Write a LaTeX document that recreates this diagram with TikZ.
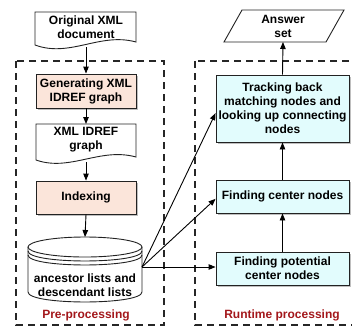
\documentclass[tikz,border=0pt]{standalone}
\usepackage{fontspec}
\setmainfont{Liberation Sans}
\usetikzlibrary{arrows.meta,shadows}
\definecolor{pinkfill}{HTML}{FBE5DA}
\definecolor{cyanfill}{HTML}{E2FCFD}
\definecolor{labred}{HTML}{A3171B}
\definecolor{edge}{HTML}{222222}
\begin{document}
\begin{tikzpicture}[x=1pt,y=-1pt,
  every node/.style={font=\fontsize{12}{14}\selectfont\bfseries, align=center, inner sep=0pt},
  procbox/.style={draw=edge, line width=0.9pt, minimum width=100pt, minimum height=34pt,
     drop shadow={shadow xshift=1.5pt, shadow yshift=-1.5pt, fill=black!25, opacity=1}},
  pinkbox/.style={procbox, fill=pinkfill},
  cyanbox/.style={procbox, fill=cyanfill, minimum width=133pt},
  shapeline/.style={draw=edge, line width=0.9pt, fill=white},
  conn/.style={draw=black, line width=0.9pt, -{Triangle[length=7pt,width=5.5pt]}},
  region/.style={draw=black!85, line width=1.1pt, dash pattern=on 7pt off 5pt},
  regionlabel/.style={text=labred}
]
\useasboundingbox (0,0) rectangle (352,327);

% regions
\draw[region] (16,61) rectangle (164,325);
\draw[region] (195,61) rectangle (362,325);
\node[regionlabel] (prel) at (86,315) {Pre-processing};
\node[regionlabel] (runl) at (282,315) {Runtime processing};

% Original XML document
\draw[shapeline] (35,12) -- (136,12) -- (136,42) .. controls (100,32) and (70,58) .. (35,45) -- cycle;
\node (doc1) at (86,27) {Original XML\\document};
\coordinate (doc1b) at (86,47);

% Generating
\node[pinkbox, minimum height=34pt] (gen) at (86,91) {Generating XML\\IDREF graph};

% XML IDREF graph document
\draw[shapeline] (36,124) -- (136,124) -- (136,157) .. controls (100,147) and (70,172) .. (36,160) -- cycle;
\node (doc2) at (86,140) {XML IDREF\\graph};
\coordinate (doc2t) at (86,124);
\coordinate (doc2b) at (86,162);

% Indexing
\node[pinkbox, minimum height=33pt] (idx) at (86,197.5) {Indexing};

% Cylinder
\draw[shapeline] (28,247) -- (28,292) .. controls (28,305.3) and (142,305.3) .. (142,292) -- (142,247);
\draw[shapeline] (85,247) ellipse [x radius=57, y radius=10];
\draw[draw=edge, line width=0.9pt] (28,251) .. controls (28,264.3) and (142,264.3) .. (142,251);
\draw[draw=edge, line width=0.9pt] (28,255) .. controls (28,268.3) and (142,268.3) .. (142,255);
\node (cyl) at (85,285) {ancestor lists and\\descendant lists};
\coordinate (cylT) at (85,237);
\coordinate (cylR) at (142,267);

% Answer set
\draw[shapeline] (242,10) -- (344,10) -- (326,42) -- (224,42) -- cycle;
\node (ans) at (283,26) {Answer\\set};
\coordinate (ansB) at (283,42);

% Runtime boxes
\node[cyanbox, minimum height=67pt] (track) at (282.5,108.5) {Tracking back\\matching nodes and\\looking up connecting\\nodes};
\node[cyanbox, minimum height=33pt] (cent) at (282.5,196.5) {Finding center nodes};
\node[cyanbox, minimum height=33pt] (pot) at (282.5,268.5) {Finding potential\\center nodes};

% connectors
\draw[conn] (doc1b) -- (gen.north);
\draw[conn] (gen.south) -- (doc2t);
\draw[conn] (doc2b) -- (idx.north);
\draw[conn] (idx.south) -- (cylT);
\draw[conn] (cylR) -- (track.184);
\draw[conn] (cylR) -- (cent.182);
\draw[conn] (cylR) -- (cylR -| pot.west);
\draw[conn] (pot.north) -- (cent.south);
\draw[conn] (cent.north) -- (track.south);
\draw[conn] (track.north) -- (ansB);
\end{tikzpicture}
\end{document}
